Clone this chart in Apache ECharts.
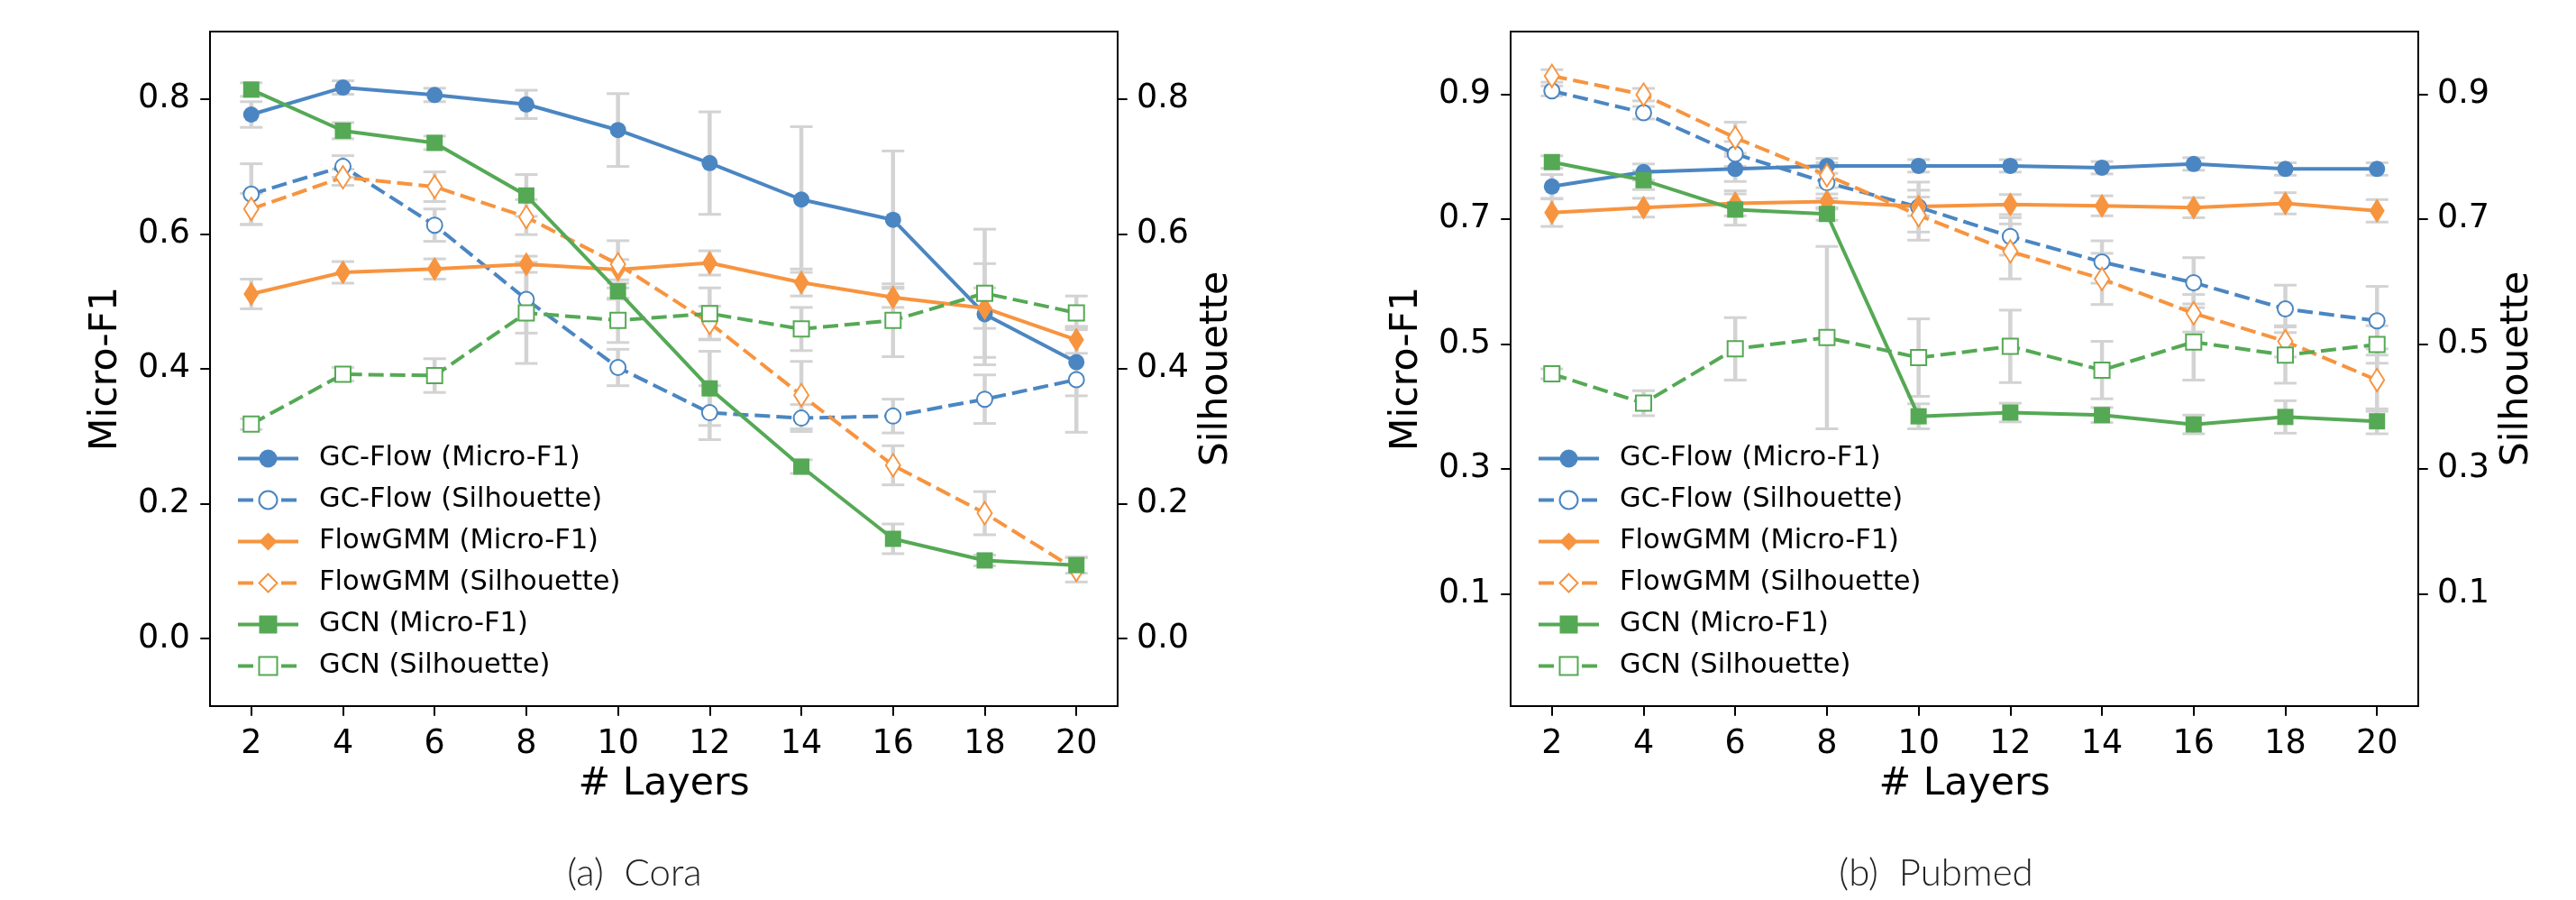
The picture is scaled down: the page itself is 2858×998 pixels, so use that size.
<!DOCTYPE html>
<html>
<head>
<meta charset="utf-8">
<script src="https://cdn.jsdelivr.net/npm/echarts@6/dist/echarts.min.js"></script>
<style>
  html, body { margin: 0; padding: 0; background: #fff; }
  #container { width: 2858px; height: 998px; }
</style>
</head>
<body>
<div id="container"></div>
<script>
let chart = echarts.init(document.getElementById('container'));

// x values (# layers)
var layers = [2, 4, 6, 8, 10, 12, 14, 16, 18, 20];

// (a) Cora
var coraGcflowF1 = [0.777, 0.817, 0.806, 0.792, 0.754, 0.705, 0.651, 0.621, 0.481, 0.410];
var coraGcflowF1Err = [0.019, 0.010, 0.010, 0.021, 0.054, 0.076, 0.108, 0.102, 0.075, 0.050];
var coraGcflowSil = [0.659, 0.700, 0.613, 0.503, 0.402, 0.335, 0.327, 0.330, 0.355, 0.384];
var coraGcflowSilErr = [0.045, 0.016, 0.024, 0.050, 0.027, 0.040, 0.020, 0.025, 0.036, 0.078];
var coraFlowgmmF1 = [0.511, 0.543, 0.548, 0.555, 0.547, 0.557, 0.528, 0.506, 0.490, 0.443];
var coraFlowgmmF1Err = [0.022, 0.016, 0.015, 0.012, 0.015, 0.018, 0.020, 0.015, 0.030, 0.020];
var coraFlowgmmSil = [0.637, 0.684, 0.670, 0.625, 0.555, 0.468, 0.361, 0.257, 0.186, 0.102];
var coraFlowgmmSilErr = [0.023, 0.012, 0.022, 0.026, 0.035, 0.025, 0.050, 0.029, 0.032, 0.018];
var coraGcnF1 = [0.814, 0.753, 0.735, 0.657, 0.515, 0.371, 0.255, 0.148, 0.116, 0.109];
var coraGcnF1Err = [0.010, 0.012, 0.010, 0.031, 0.012, 0.055, 0.010, 0.022, 0.008, 0.012];
var coraGcnSil = [0.318, 0.392, 0.390, 0.483, 0.472, 0.482, 0.459, 0.472, 0.512, 0.483];
var coraGcnSilErr = [0.008, 0.010, 0.025, 0.075, 0.033, 0.038, 0.032, 0.054, 0.095, 0.025];

// (b) Pubmed
var pubGcflowF1 = [0.752, 0.775, 0.780, 0.785, 0.785, 0.785, 0.782, 0.788, 0.780, 0.780];
var pubGcflowF1Err = [0.019, 0.013, 0.020, 0.012, 0.010, 0.010, 0.010, 0.010, 0.010, 0.010];
var pubGcflowSil = [0.905, 0.870, 0.804, 0.758, 0.719, 0.672, 0.631, 0.598, 0.556, 0.537];
var pubGcflowSilErr = [0.008, 0.010, 0.020, 0.025, 0.040, 0.030, 0.034, 0.040, 0.038, 0.055];
var pubFlowgmmF1 = [0.710, 0.718, 0.725, 0.728, 0.720, 0.723, 0.721, 0.718, 0.725, 0.713];
var pubFlowgmmF1Err = [0.022, 0.015, 0.020, 0.012, 0.015, 0.016, 0.016, 0.016, 0.017, 0.018];
var pubFlowgmmSil = [0.929, 0.899, 0.830, 0.770, 0.706, 0.648, 0.604, 0.549, 0.504, 0.442];
var pubFlowgmmSilErr = [0.010, 0.010, 0.025, 0.020, 0.040, 0.044, 0.041, 0.030, 0.025, 0.050];
var pubGcnF1 = [0.791, 0.762, 0.715, 0.708, 0.384, 0.390, 0.386, 0.371, 0.383, 0.376];
var pubGcnF1Err = [0.010, 0.015, 0.025, 0.010, 0.020, 0.015, 0.012, 0.015, 0.026, 0.020];
var pubGcnSil = [0.452, 0.405, 0.492, 0.510, 0.478, 0.496, 0.458, 0.503, 0.482, 0.499];
var pubGcnSilErr = [0.008, 0.020, 0.050, 0.146, 0.062, 0.058, 0.046, 0.061, 0.045, 0.030];

// tick labels
var coraTicks = [0.0, 0.2, 0.4, 0.6, 0.8];
var pubTicks = [0.1, 0.3, 0.5, 0.7, 0.9];

var names = ['GC-Flow (Micro-F1)', 'GC-Flow (Silhouette)', 'FlowGMM (Micro-F1)',
             'FlowGMM (Silhouette)', 'GCN (Micro-F1)', 'GCN (Silhouette)'];

var BLUE = '#4b86c2', ORANGE = '#f7943f', GREEN = '#55a955', ERR = '#d3d3d3';
var FONT = 'DejaVu Sans';

// one style per legend entry
var styles = [
    {color: BLUE, symbol: 'circle', size: 18, dashed: false, axis: 0},
    {color: BLUE, symbol: 'emptyCircle', size: 17, dashed: true, axis: 1},
    {color: ORANGE, symbol: 'diamond', size: [17, 27], dashed: false, axis: 0},
    {color: ORANGE, symbol: 'emptyDiamond', size: [16, 25], dashed: true, axis: 1},
    {color: GREEN, symbol: 'rect', size: 18, dashed: false, axis: 0},
    {color: GREEN, symbol: 'emptyRect', size: 17, dashed: true, axis: 1},
];

var panels = [
    {left: 233, ymin: -0.1, ymax: 0.9, ticks: coraTicks,
     values: [coraGcflowF1, coraGcflowSil, coraFlowgmmF1, coraFlowgmmSil, coraGcnF1, coraGcnSil],
     errors: [coraGcflowF1Err, coraGcflowSilErr, coraFlowgmmF1Err, coraFlowgmmSilErr, coraGcnF1Err, coraGcnSilErr]},
    {left: 1676, ymin: -0.08, ymax: 1.0, ticks: pubTicks,
     values: [pubGcflowF1, pubGcflowSil, pubFlowgmmF1, pubFlowgmmSil, pubGcnF1, pubGcnSil],
     errors: [pubGcflowF1Err, pubGcflowSilErr, pubFlowgmmF1Err, pubFlowgmmSilErr, pubGcnF1Err, pubGcnSilErr]},
];

function renderErr(params, api) {
    var x = api.value(0), y = api.value(1), e = api.value(2);
    var top = api.coord([x, y + e]);
    var bot = api.coord([x, y - e]);
    var cap = 12.5;
    var capStyle = {stroke: ERR, lineWidth: 3};
    return {
        type: 'group',
        children: [
            {type: 'line', shape: {x1: top[0], y1: top[1], x2: bot[0], y2: bot[1]},
             style: {stroke: ERR, lineWidth: 4.5}},
            {type: 'line', shape: {x1: top[0] - cap, y1: top[1], x2: top[0] + cap, y2: top[1]}, style: capStyle},
            {type: 'line', shape: {x1: bot[0] - cap, y1: bot[1], x2: bot[0] + cap, y2: bot[1]}, style: capStyle},
        ]
    };
}

var option = {
    animation: false,
    backgroundColor: '#fff',
    textStyle: {fontFamily: FONT, color: '#000'},
    grid: [],
    xAxis: [],
    yAxis: [],
    legend: [],
    series: [],
    graphic: [
        {type: 'text', x: 704, y: 968,
         style: {text: '(a)  Cora', fontSize: 42, fontFamily: 'Lato', fontWeight: 300,
                 fill: '#222', align: 'center', verticalAlign: 'middle'}},
        {type: 'text', x: 2148, y: 968,
         style: {text: '(b)  Pubmed', fontSize: 42, fontFamily: 'Lato', fontWeight: 300,
                 fill: '#222', align: 'center', verticalAlign: 'middle'}},
    ],
};

var tickStyle = {show: true, length: 10.7, lineStyle: {color: '#000', width: 2}};

panels.forEach((p, g) => {
    option.grid.push({
        left: p.left, top: 35, width: 1007, height: 748,
        show: true, borderColor: '#000', borderWidth: 2, backgroundColor: 'transparent',
    });
    option.xAxis.push({
        type: 'value', gridIndex: g, min: 1.1, max: 20.9,
        name: '# Layers', nameLocation: 'middle', nameGap: 64,
        nameTextStyle: {fontSize: 42.6, fontFamily: FONT, color: '#000'},
        axisLine: {show: false, onZero: false},
        axisTick: Object.assign({customValues: layers}, tickStyle),
        axisLabel: {customValues: layers, fontSize: 36.5, fontFamily: FONT, color: '#000', margin: 24},
        splitLine: {show: false},
    });
    var fmt = v => v.toFixed(1);
    option.yAxis.push({
        type: 'value', gridIndex: g, min: p.ymin, max: p.ymax, position: 'left',
        name: 'Micro-F1', nameLocation: 'middle', nameGap: 94, nameRotate: 90,
        nameTextStyle: {fontSize: 42.6, fontFamily: FONT, color: '#000'},
        axisLine: {show: false},
        axisTick: Object.assign({customValues: p.ticks}, tickStyle),
        axisLabel: {customValues: p.ticks, formatter: fmt, fontSize: 36.5, fontFamily: FONT, color: '#000', margin: 22},
        splitLine: {show: false},
    });
    option.yAxis.push({
        type: 'value', gridIndex: g, min: p.ymin, max: p.ymax, position: 'right',
        name: 'Silhouette', nameLocation: 'middle', nameGap: 88, nameRotate: 90,
        nameTextStyle: {fontSize: 42.6, fontFamily: FONT, color: '#000'},
        axisLine: {show: false},
        axisTick: Object.assign({customValues: p.ticks}, tickStyle),
        axisLabel: {customValues: p.ticks, formatter: fmt, fontSize: 36.5, fontFamily: FONT, color: '#000', margin: 21},
        splitLine: {show: false},
    });
    option.legend.push({
        orient: 'vertical', left: p.left + 29, top: 493, padding: 0,
        itemWidth: 67, itemHeight: 25, itemGap: 15, selectedMode: false,
        data: names,
        lineStyle: {width: 4},
        textStyle: {fontSize: 30.5, fontFamily: FONT, color: '#000', padding: [0, 0, 0, 18]},
    });

    // error bars first, so they sit below the lines
    styles.forEach((s, i) => {
        option.series.push({
            type: 'custom', name: 'err ' + g + '-' + i, xAxisIndex: g, yAxisIndex: g * 2 + s.axis,
            renderItem: renderErr, z: 1, silent: true,
            data: layers.map((x, k) => [x, p.values[i][k], p.errors[i][k]]),
        });
    });
    styles.forEach((s, i) => {
        option.series.push({
            type: 'line', name: names[i], xAxisIndex: g, yAxisIndex: g * 2 + s.axis, z: 2,
            symbol: s.symbol, symbolSize: s.size, showAllSymbol: true,
            lineStyle: {color: s.color, width: 4, type: s.dashed ? [17, 7] : 'solid'},
            itemStyle: {color: s.color, borderColor: s.color, borderWidth: s.symbol.indexOf('empty') === 0 ? 2.6 : 0},
            data: layers.map((x, k) => [x, p.values[i][k]]),
        });
    });
});

chart.setOption(option);
</script>
</body>
</html>
